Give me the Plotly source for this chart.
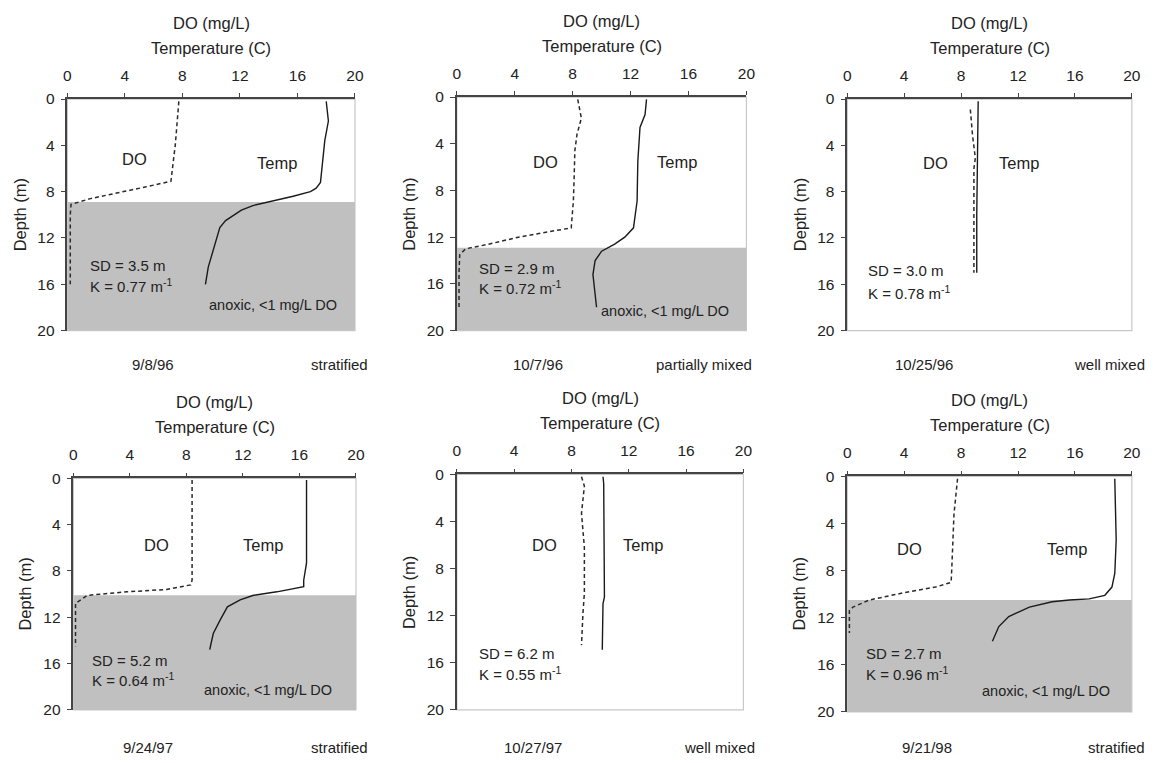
import plotly.graph_objects as go

W, H = 1156, 763

# ---------------- data ----------------
dates = ["9/8/96", "10/7/96", "10/25/96", "9/24/97", "10/27/97", "9/21/98"]
mix_state = ["stratified", "partially mixed", "well mixed", "stratified", "well mixed", "stratified"]
sd_vals = ["3.5", "2.9", "3.0", "5.2", "6.2", "2.7"]
k_vals = ["0.77", "0.72", "0.78", "0.64", "0.55", "0.96"]
anoxic_top = [8.9, 12.9, None, 10.1, None, 10.5]
x_ticks = [0, 4, 8, 12, 16, 20]
y_ticks = [0, 4, 8, 12, 16, 20]

p1_do_depth = [0.2, 2, 4, 5, 6, 7.1, 7.6, 8.1, 8.6, 9.1, 10, 12, 14, 16]
p1_do = [7.75, 7.65, 7.5, 7.4, 7.3, 7.2, 5.4, 3.5, 1.6, 0.25, 0.2, 0.2, 0.2, 0.2]
p1_t_depth = [0.2, 1.9, 3.6, 5, 6.5, 7.2, 7.7, 8.0, 8.4, 8.8, 9.2, 9.6, 10, 10.5, 11.1, 12, 12.8, 14.5, 16]
p1_temp = [18.0, 18.15, 17.9, 17.8, 17.7, 17.6, 17.3, 16.9, 15.7, 14.3, 12.9, 12.1, 11.6, 11.0, 10.6, 10.4, 10.2, 9.8, 9.6]

p2_do_depth = [0.2, 1.8, 3.2, 4.6, 7, 8.9, 11.2, 11.5, 12, 12.6, 13, 13.5, 15, 18]
p2_do = [8.35, 8.6, 8.3, 8.15, 8.1, 8.05, 7.9, 6.55, 4.25, 2.2, 0.6, 0.2, 0.15, 0.15]
p2_t_depth = [0.2, 1.5, 2.6, 5.5, 8.9, 10, 11.2, 12, 12.6, 13.2, 14, 15.2, 16.9, 18]
p2_temp = [13.1, 13.0, 12.65, 12.5, 12.45, 12.35, 12.2, 11.6, 10.9, 10.0, 9.55, 9.4, 9.55, 9.65]

p3_do_depth = [0.9, 3.1, 5.1, 6, 8.8, 12, 15]
p3_do = [8.65, 8.8, 9.0, 8.9, 8.9, 8.9, 8.9]
p3_t_depth = [0.2, 5.5, 6, 10, 15]
p3_temp = [9.2, 9.15, 9.1, 9.1, 9.1]

p4_do_depth = [0.15, 4, 8.8, 9.2, 9.6, 9.8, 10.1, 10.8, 12, 14.5]
p4_do = [8.4, 8.4, 8.4, 8.3, 6.6, 3.8, 1.0, 0.15, 0.15, 0.15]
p4_t_depth = [0.15, 4, 7.3, 8.8, 9.35, 9.8, 10.1, 10.5, 11.1, 12.2, 13.4, 14.5, 14.8]
p4_temp = [16.5, 16.5, 16.5, 16.3, 16.3, 14.4, 12.75, 11.8, 10.9, 10.4, 9.9, 9.7, 9.65]

p5_do_depth = [0.2, 1, 3.3, 6.2, 10.1, 11.8, 14.5]
p5_do = [8.7, 8.9, 8.7, 8.9, 8.9, 8.8, 8.7]
p5_t_depth = [0.2, 0.8, 10.4, 11, 14.9]
p5_temp = [10.2, 10.25, 10.3, 10.2, 10.15]

p6_do_depth = [0.2, 3.2, 7.7, 9.0, 9.4, 9.9, 10.5, 11.1, 11.4, 13.3]
p6_do = [7.75, 7.5, 7.35, 7.3, 6.2, 3.9, 1.55, 0.4, 0.15, 0.15]
p6_t_depth = [0.2, 5.4, 8.25, 9.4, 10.1, 10.4, 10.5, 10.65, 11.1, 11.9, 12.75, 13.75, 14.0]
p6_temp = [18.8, 18.9, 18.8, 18.6, 18.1, 17.0, 15.6, 14.4, 12.8, 11.35, 10.65, 10.25, 10.2]

do_series = [(p1_do, p1_do_depth), (p2_do, p2_do_depth), (p3_do, p3_do_depth),
             (p4_do, p4_do_depth), (p5_do, p5_do_depth), (p6_do, p6_do_depth)]
t_series = [(p1_temp, p1_t_depth), (p2_temp, p2_t_depth), (p3_temp, p3_t_depth),
            (p4_temp, p4_t_depth), (p5_temp, p5_t_depth), (p6_temp, p6_t_depth)]

do_lbl = [(4.7, 5.2), (6.1, 5.6), (6.2, 5.5), (5.9, 5.75), (6.15, 6.0), (4.35, 6.15)]
t_lbl = [(14.6, 5.5), (15.2, 5.6), (12.05, 5.5), (13.45, 5.75), (13.0, 6.0), (15.45, 6.15)]
sd_lbl = [(1.4, 14.4), (1.4, 14.7), (1.3, 14.8), (1.2, 15.7), (1.4, 15.25), (1.2, 15.0)]
k_lbl = [(1.4, 16.1), (1.4, 16.3), (1.3, 16.7), (1.2, 17.4), (1.4, 16.9), (1.2, 16.7)]
anox_lbl = [(14.3, 17.8), (14.4, 18.3), None, (13.8, 18.3), None, (13.95, 18.2)]

# target geometry in screen pixels: x0, x1, ytop, ybottom
geom = [(67, 355, 98, 330), (457, 747, 96, 330), (848, 1133, 98, 330),
        (73, 356, 478, 710), (457, 744, 474, 710), (848, 1133, 476, 712)]
date_px = [(153, 364), (538, 364), (925, 364), (148, 748), (533, 748), (928, 748)]
state_right = [370, 755, 1148, 370, 758, 1148]

FONT = "Liberation Sans, Arial, sans-serif"
TXT = "#222222"
LINE = "#1a1a1a"

# the page is photographed slightly shrunk; map target pixels to paper fractions
SX_A, SX_B = 3.5, 0.9902
SY_A, SY_B = 7.8, 0.9795

def px(v):
    return ((v - SX_A) / SX_B) / W

def py(v):
    return 1 - ((v - SY_A) / SY_B) / H

fig = go.Figure()
annotations = []
shapes = []
layout = {}

for i in range(6):
    n = i + 1
    xa = "x" if n == 1 else f"x{n}"
    ya = "y" if n == 1 else f"y{n}"
    x0, x1, yt, yb = geom[i]
    layout[f"xaxis{'' if n == 1 else n}"] = dict(
        domain=[px(x0), px(x1)], anchor=ya, side="top", range=[0, 20],
        tickvals=x_ticks, ticks="outside", ticklen=4, tickcolor="#444",
        showline=True, linecolor="#444", linewidth=1.5, showgrid=False,
        zeroline=False, tickfont=dict(family=FONT, size=15.5, color=TXT),
        ticklabelstandoff=6, fixedrange=True)
    layout[f"yaxis{'' if n == 1 else n}"] = dict(
        domain=[py(yb), py(yt)], anchor=xa, range=[20, 0],
        tickvals=y_ticks, ticks="outside", ticklen=5, tickcolor="#444",
        showline=True, linecolor="#444", linewidth=1.5, showgrid=False,
        zeroline=False, tickfont=dict(family=FONT, size=15.5, color=TXT),
        ticklabelstandoff=3, fixedrange=True)

    shapes.append(dict(type="rect", xref=f"{xa} domain", yref=f"{ya} domain",
                       x0=0, x1=1, y0=0, y1=1, line=dict(color="#c8c8c8", width=1.2),
                       layer="below"))
    if anoxic_top[i] is not None:
        shapes.append(dict(type="rect", xref=xa, yref=ya, x0=0, x1=20,
                           y0=anoxic_top[i], y1=20, fillcolor="#c0c0c0",
                           line=dict(width=0), layer="below"))

    dv, dd = do_series[i]
    tv, td = t_series[i]
    fig.add_trace(go.Scatter(x=tv, y=td, mode="lines", xaxis=xa, yaxis=ya,
                             line=dict(color=LINE, width=1.4), showlegend=False))
    fig.add_trace(go.Scatter(x=dv, y=dd, mode="lines", xaxis=xa, yaxis=ya,
                             line=dict(color="#2a2a2a", width=1.5, dash="4px,3px"),
                             showlegend=False))

    xc = (x0 + x1) / 2
    annotations += [
        dict(text="DO (mg/L)", x=px(xc), y=py(yt - 76), xref="paper", yref="paper",
             showarrow=False, xanchor="center", yanchor="middle",
             font=dict(family=FONT, size=16.5, color=TXT)),
        dict(text="Temperature (C)", x=px(xc), y=py(yt - 51), xref="paper", yref="paper",
             showarrow=False, xanchor="center", yanchor="middle",
             font=dict(family=FONT, size=16.5, color=TXT)),
        dict(text="Depth (m)", x=px(x0 - 48), y=py((yt + yb) / 2), xref="paper", yref="paper",
             showarrow=False, xanchor="center", yanchor="middle", textangle=-90,
             font=dict(family=FONT, size=16.5, color=TXT)),
        dict(text=dates[i], x=px(date_px[i][0]), y=py(date_px[i][1]), xref="paper", yref="paper",
             showarrow=False, xanchor="center", yanchor="middle",
             font=dict(family=FONT, size=15, color=TXT)),
        dict(text=mix_state[i], x=px(state_right[i]), y=py(date_px[i][1]), xref="paper", yref="paper",
             showarrow=False, xanchor="right", yanchor="middle",
             font=dict(family=FONT, size=15, color=TXT)),
        dict(text="DO", x=do_lbl[i][0], y=do_lbl[i][1], xref=xa, yref=ya, showarrow=False,
             xanchor="center", yanchor="middle", font=dict(family=FONT, size=16.5, color=TXT)),
        dict(text="Temp", x=t_lbl[i][0], y=t_lbl[i][1], xref=xa, yref=ya, showarrow=False,
             xanchor="center", yanchor="middle", font=dict(family=FONT, size=16.5, color=TXT)),
        dict(text=f"SD = {sd_vals[i]} m", x=sd_lbl[i][0], y=sd_lbl[i][1], xref=xa, yref=ya,
             showarrow=False, xanchor="left", yanchor="middle",
             font=dict(family=FONT, size=15, color=TXT)),
        dict(text=f"K = {k_vals[i]} m<sup>-1</sup>", x=k_lbl[i][0], y=k_lbl[i][1], xref=xa, yref=ya,
             showarrow=False, xanchor="left", yanchor="middle",
             font=dict(family=FONT, size=15, color=TXT)),
    ]
    if anox_lbl[i] is not None:
        annotations.append(dict(text="anoxic, <1 mg/L DO", x=anox_lbl[i][0], y=anox_lbl[i][1],
                                xref=xa, yref=ya, showarrow=False, xanchor="center",
                                yanchor="middle", font=dict(family=FONT, size=14.5, color=TXT)))

fig.update_layout(
    width=W, height=H, margin=dict(l=0, r=0, t=0, b=0),
    paper_bgcolor="white", plot_bgcolor="white",
    annotations=annotations, shapes=shapes, **layout)

fig.write_html("out.html", config={"displayModeBar": False})
